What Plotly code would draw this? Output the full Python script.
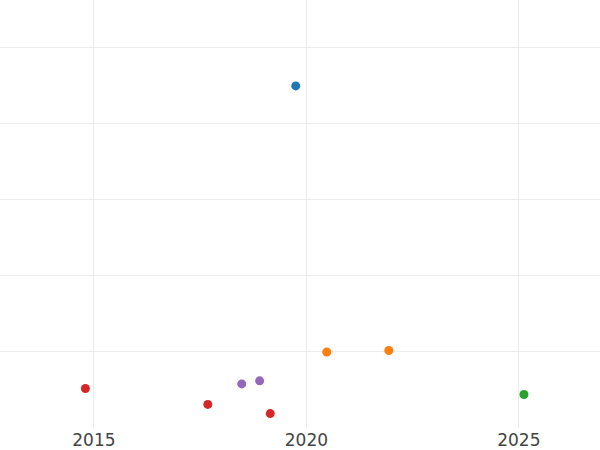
import plotly.graph_objects as go

series_names = ["A", "B", "C", "D", "E"]
series_colors = ["#1f77b4", "#ff7f0e", "#2ca02c", "#d62728", "#9467bd"]
series_x = [
    [2019.75],
    [2020.48, 2021.94],
    [2025.12],
    [2014.80, 2017.68, 2019.15],
    [2018.48, 2018.90],
]
series_y = [
    [45.0],
    [10.0, 10.2],
    [4.4],
    [5.2, 3.1, 1.9],
    [5.8, 6.2],
]

fig = go.Figure()
for name, color, xs, ys in zip(series_names, series_colors, series_x, series_y):
    fig.add_trace(go.Scatter(x=xs, y=ys, mode="markers", name=name,
                             marker=dict(color=color, size=9)))

fig.update_layout(
    width=600, height=450,
    margin=dict(l=0, r=0, t=0, b=22),
    paper_bgcolor="white", plot_bgcolor="white",
    showlegend=False,
    font=dict(family="DejaVu Sans", size=17, color="#444444"),
)
fig.update_xaxes(range=[2012.79, 2026.91], dtick=5, tick0=2015,
                 showgrid=True, gridcolor="#ebebeb", gridwidth=1,
                 zeroline=False, showline=False, ticks="")
fig.update_yaxes(range=[0, 56.3], dtick=10, tick0=0,
                 showgrid=True, gridcolor="#ebebeb", gridwidth=1,
                 zeroline=False, showline=False, showticklabels=False, ticks="")

fig.write_html("out.html", config={"displayModeBar": False},
               post_script="document.body.style.margin='0';document.body.style.overflow='hidden';")
